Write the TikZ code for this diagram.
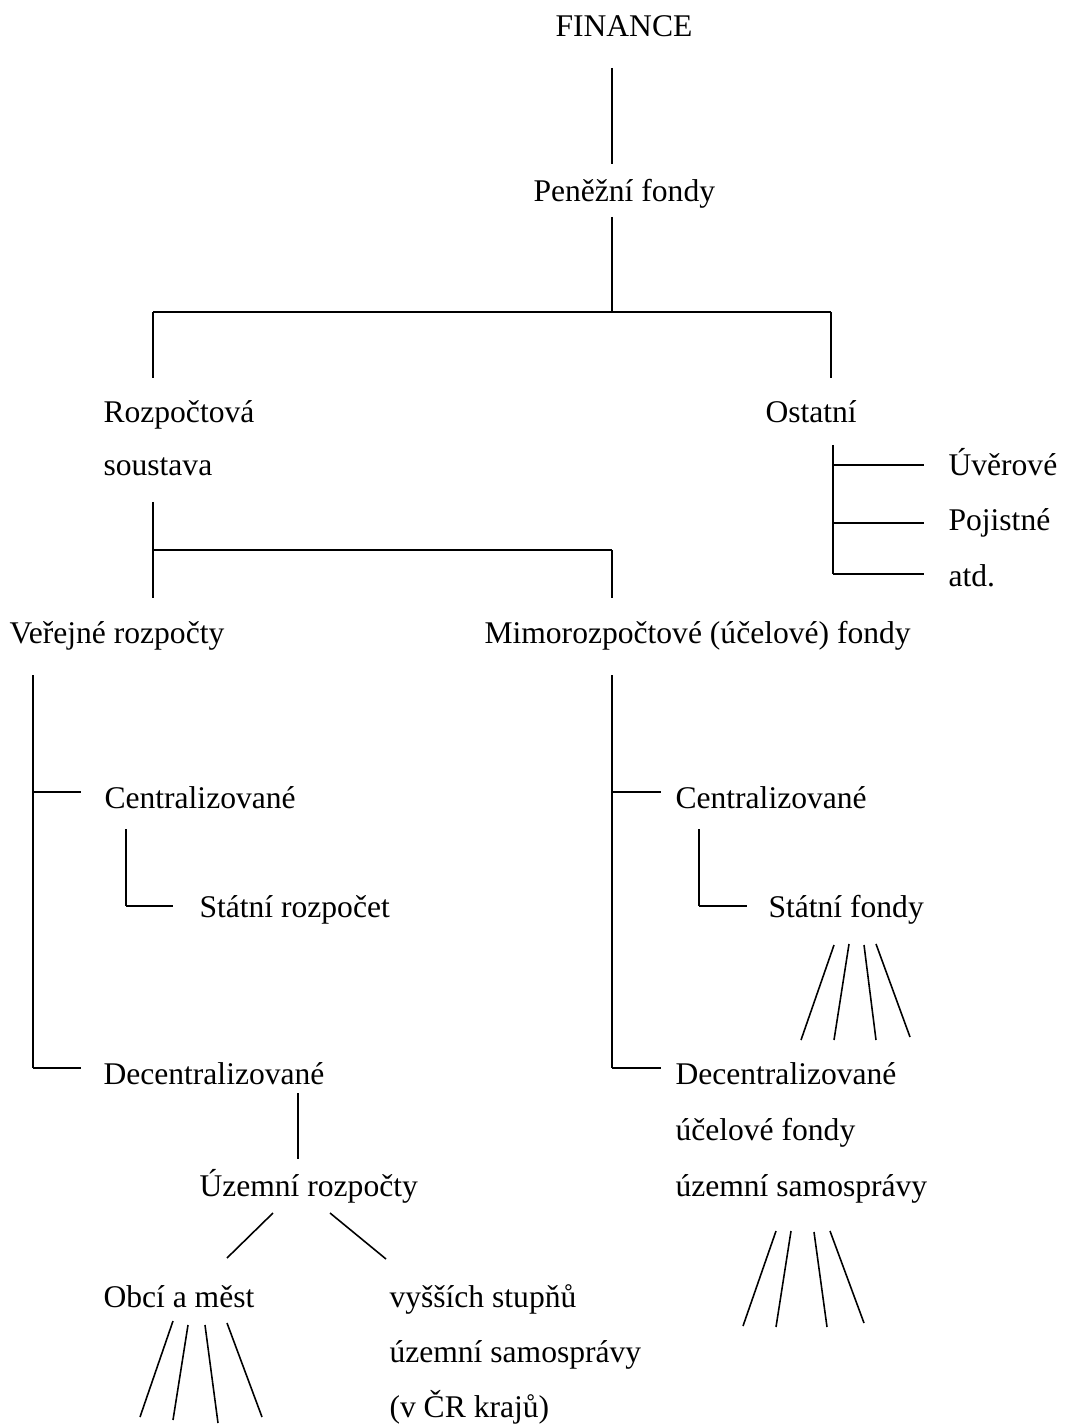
\documentclass[tikz,border=0pt]{standalone}
\usepackage{fontspec}
\setmainfont{Liberation Serif}
\begin{document}
\begin{tikzpicture}[x=0.38pt, y=-0.38pt,
  popis/.style={anchor=base west, inner sep=0pt, font=\fontsize{12pt}{14pt}\selectfont},
  cara/.style={line width=0.6pt},
  vodor/.style={line width=0.9pt}]
\useasboundingbox (0,0) rectangle (1069,1425);
% texty
\node[popis] (fin) at (555,37) {FINANCE};
\node[popis] (pf) at (533,202) {Peněžní fondy};
\node[popis] (rs1) at (103,423) {Rozpočtová};
\node[popis] (rs2) at (103,476) {soustava};
\node[popis] (ost) at (765,423) {Ostatní};
\node[popis] (uver) at (948,476) {Úvěrové};
\node[popis] (poj) at (948,531) {Pojistné};
\node[popis] (atd) at (948,586) {atd.};
\node[popis] (vr) at (9,643) {Veřejné rozpočty};
\node[popis] (mf) at (484,643) {Mimorozpočtové (účelové) fondy};
\node[popis] (c1) at (104,808) {Centralizované};
\node[popis] (sr) at (199,917) {Státní rozpočet};
\node[popis] (c2) at (675,808) {Centralizované};
\node[popis] (sf) at (768,917) {Státní fondy};
\node[popis] (d1) at (103,1084) {Decentralizované};
\node[popis] (d2) at (675,1084) {Decentralizované};
\node[popis] (d2b) at (675,1140) {účelové fondy};
\node[popis] (d2c) at (675,1196) {územní samosprávy};
\node[popis] (ur) at (199,1196) {Územní rozpočty};
\node[popis] (om) at (103,1307) {Obcí a měst};
\node[popis] (vs1) at (389,1307) {vyšších stupňů};
\node[popis] (vs2) at (389,1362) {územní samosprávy};
\node[popis] (vs3) at (389,1417) {(v ČR krajů)};
% FINANCE - Penezni fondy
\coordinate (a1) at (612,68);
\coordinate (a2) at (612,164);
\draw[cara] (a1) -- (a2);
% rozdeleni fondu
\coordinate (b1) at (612,217);
\coordinate (b2) at (612,312);
\coordinate (b3) at (153,312);
\coordinate (b4) at (831,312);
\coordinate (b5) at (153,378);
\coordinate (b6) at (831,378);
\draw[cara] (b1) -- (b2);
\draw[vodor] (b3) -- (b4);
\draw[cara] (b3) -- (b5);
\draw[cara] (b4) -- (b6);
% Ostatni
\coordinate (o0) at (833,445);
\coordinate (o3) at (833,574);
\draw[cara] (o0) -- (o3);
\foreach \k/\y in {1/465,2/523,3/574}
  {\coordinate (oa\k) at (833,\y);
   \coordinate (ob\k) at (924,\y);
   \draw[vodor] (oa\k) -- (ob\k);}
% Rozpoctova soustava
\coordinate (e1) at (153,502);
\coordinate (e2) at (153,550);
\coordinate (e3) at (612,550);
\coordinate (e4) at (153,598);
\coordinate (e5) at (612,598);
\draw[cara] (e1) -- (e4);
\draw[vodor] (e2) -- (e3);
\draw[cara] (e3) -- (e5);
% Verejne rozpocty
\coordinate (g1) at (33,675);
\coordinate (g2) at (33,792);
\coordinate (g3) at (81,792);
\coordinate (g4) at (33,1068);
\coordinate (g5) at (81,1068);
\draw[cara] (g1) -- (g4);
\draw[vodor] (g2) -- (g3);
\draw[vodor] (g4) -- (g5);
\coordinate (h1) at (126,829);
\coordinate (h2) at (126,906);
\coordinate (h3) at (173,906);
\draw[cara] (h1) -- (h2);
\draw[vodor] (h2) -- (h3);
% Mimorozpoctove fondy
\coordinate (k1) at (612,675);
\coordinate (k2) at (612,792);
\coordinate (k3) at (661,792);
\coordinate (k4) at (612,1068);
\coordinate (k5) at (661,1068);
\draw[cara] (k1) -- (k4);
\draw[vodor] (k2) -- (k3);
\draw[vodor] (k4) -- (k5);
\coordinate (m1) at (699,829);
\coordinate (m2) at (699,906);
\coordinate (m3) at (747,906);
\draw[cara] (m1) -- (m2);
\draw[vodor] (m2) -- (m3);
% Decentralizovane - Uzemni rozpocty
\coordinate (n1) at (298,1093);
\coordinate (n2) at (298,1159);
\draw[cara] (n1) -- (n2);
\coordinate (p1) at (273,1213);
\coordinate (p2) at (227,1258);
\coordinate (p3) at (330,1213);
\coordinate (p4) at (386,1259);
\draw[cara] (p1) -- (p2);
\draw[cara] (p3) -- (p4);
% vejire
\foreach \i/\tx/\ty/\bx/\by in {1/834/945/801/1040, 2/849/944/834/1040,
    3/864/945/876/1040, 4/876/944/910/1037}
  {\coordinate (sft\i) at (\tx,\ty);
   \coordinate (sfb\i) at (\bx,\by);
   \draw[cara] (sft\i) -- (sfb\i);}
\foreach \i/\tx/\ty/\bx/\by in {1/776/1231/743/1326, 2/791/1231/776/1327,
    3/814/1232/827/1327, 4/830/1231/864/1323}
  {\coordinate (ust\i) at (\tx,\ty);
   \coordinate (usb\i) at (\bx,\by);
   \draw[cara] (ust\i) -- (usb\i);}
\foreach \i/\tx/\ty/\bx/\by in {1/173/1321/140/1417, 2/188/1325/173/1420,
    3/205/1325/218/1423, 4/227/1323/262/1417}
  {\coordinate (omt\i) at (\tx,\ty);
   \coordinate (omb\i) at (\bx,\by);
   \draw[cara] (omt\i) -- (omb\i);}
\end{tikzpicture}
\end{document}
